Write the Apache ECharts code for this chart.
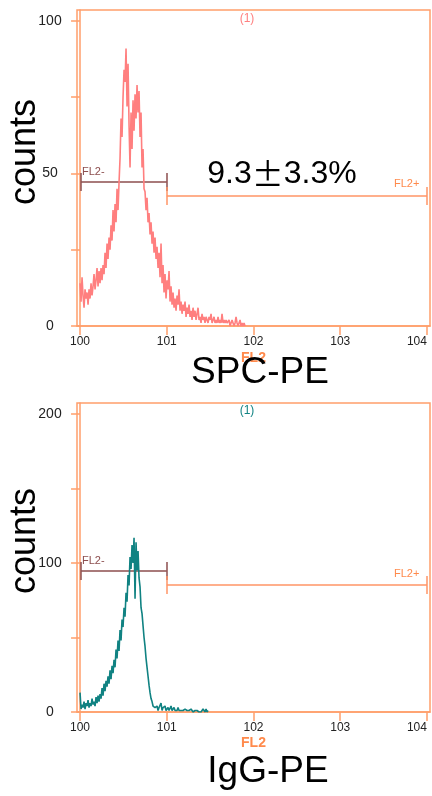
<!DOCTYPE html>
<html>
<head>
<meta charset="utf-8">
<script src="https://cdn.jsdelivr.net/npm/echarts@6/dist/echarts.min.js"></script>
<style>
  html, body { margin: 0; padding: 0; background: #fff; }
  #chart { width: 432px; height: 796px; }
</style>
</head>
<body>
<div id="chart"></div>
<script>
const FONT = '"Liberation Sans", Arial, sans-serif';
const FRAME = '#FF9E6B';

// x is in decades (log10 of FL2), one channel per step
const xTickValues = [0, 1, 2, 3, 4];
const xTickLabels = ['100', '101', '102', '103', '104'];
const channelWidth = 0.01153;

const topYTicks = [0, 25, 50, 75, 100];
const topYLabels = [0, 50, 100];
const bottomYTicks = [0, 50, 100, 150, 200];
const bottomYLabels = [0, 100, 200];

// SPC-PE histogram counts per channel
const spcCounts = [
  14, 8, 16, 10, 6, 12, 9,
  11, 7, 12, 9, 14, 10, 13,
  17, 12, 15, 19, 13, 18, 14,
  19, 15, 20, 17, 24, 19, 27,
  22, 29, 25, 33, 28, 38, 31,
  40, 34, 45, 38, 47,
  55, 68, 62, 75, 84,
  80, 91, 72, 86, 66,
  52, 70, 58, 74, 64,
  76, 68, 79, 70, 77,
  62, 70, 52, 58, 45,
  44, 38, 42, 34, 37,
  30, 34, 27, 31, 24, 29, 22,
  26, 19, 24, 16, 27, 14, 20, 11, 17, 9, 15,
  12, 18, 8, 13, 7, 11, 6, 9,
  5, 10, 7, 12, 5, 8, 4, 7,
  5, 8, 3, 6, 4, 7, 3, 5, 2, 6,
  3, 5, 2, 4, 6, 2, 3, 1, 4, 2, 3, 1, 3, 2,
  1, 3, 2, 4, 1, 2, 3, 1, 2, 1, 3, 1, 2, 1, 4, 1, 2, 1, 2, 1,
  1, 2, 0, 1, 2, 1, 0, 1, 3, 1, 0, 1, 2, 0, 1, 0, 1, 0
];

// IgG-PE histogram counts per channel
const iggCounts = [
  13, 2, 5, 3, 7, 2, 6, 4, 8, 3, 6, 4, 9, 5, 7, 4, 10, 6, 11, 7,
  12, 9, 16, 11, 19, 14, 21, 17, 24, 19,
  28, 22, 31, 26, 35, 30, 42, 36, 48, 41,
  55, 48, 62, 57, 70, 64, 80, 74, 92, 85,
  104, 96, 112, 100, 117, 76, 114, 95, 108, 90,
  84, 70, 66, 58, 50, 44, 36, 30, 24, 18,
  13, 9, 7, 4, 5, 3, 2, 4, 1, 3,
  2, 6, 1, 3, 2, 4, 1, 2, 3, 1,
  2, 4, 1, 2, 3, 1, 2, 1, 3, 1,
  2, 1, 2, 1, 1, 2, 1, 1, 2, 1,
  1, 2, 1, 0, 1, 1, 0, 1, 0, 0,
  0, 0, 0, 2, 1, 0, 2, 0, 1
];

// gates: [from decade, to decade, level]
const spcGateNeg = [0.012, 1.0, 47.2];
const spcGatePos = [1.0, 4.0, 42.6];
const iggGateNeg = [0.012, 1.0, 94.6];
const iggGatePos = [1.0, 4.0, 85.2];

const toXY = counts => counts.map((v, i) => [i * channelWidth, v]);

function gateLines(g, half) {
  const [x0, x1, y] = g;
  return [
    { coords: [[x0, y], [x1, y]] },
    { coords: [[x0, y - half], [x0, y + half]] },
    { coords: [[x1, y - half], [x1, y + half]] }
  ];
}

function gateSeries(g, half, color, idx) {
  return {
    type: 'lines', coordinateSystem: 'cartesian2d',
    xAxisIndex: idx, yAxisIndex: idx,
    polyline: false, silent: true,
    lineStyle: { color: color, width: 1.5, opacity: 1 },
    data: gateLines(g, half)
  };
}

function xAxisFor(idx) {
  return {
    gridIndex: idx, type: 'value', min: -0.035, max: 4.035,
    name: 'FL2', nameLocation: 'middle', nameGap: idx === 0 ? 32 : 31,
    nameTextStyle: { color: '#FF8A4C', fontWeight: 'bold', fontSize: 14, fontFamily: FONT, verticalAlign: 'middle' },
    axisLine: { lineStyle: { color: FRAME, width: 1.5 } },
    axisTick: { customValues: xTickValues, length: 9, lineStyle: { color: FRAME, width: 1.5 } },
    axisLabel: {
      customValues: xTickValues, margin: 10, color: '#222', fontSize: 12, fontFamily: FONT,
      alignMaxLabel: 'right', hideOverlap: false,
      formatter: v => xTickLabels[xTickValues.indexOf(Math.round(v))]
    },
    splitLine: { show: false }
  };
}

function yAxisFor(idx, max, ticks, labels) {
  return {
    gridIndex: idx, type: 'value', min: 0, max: max,
    axisLine: { show: true, lineStyle: { color: FRAME, width: 1.5 } },
    axisTick: { show: true, customValues: ticks, length: 9, lineStyle: { color: FRAME, width: 1.5 } },
    axisLabel: { customValues: labels, align: 'center', margin: 27, color: '#222', fontSize: 14, fontFamily: FONT },
    splitLine: { show: false }
  };
}

function txt(text, x, y, size, color, extra) {
  return Object.assign({
    type: 'text', x: x, y: y, z: 100,
    style: { text: text, font: size + 'px ' + FONT, fill: color, align: 'center', verticalAlign: 'middle' }
  }, extra || {});
}

function gateLabel(text, x, y, color) {
  return {
    type: 'text', x: x, y: y, z: 100,
    style: { text: text, font: '11px ' + FONT, fill: color, align: 'left', verticalAlign: 'middle' }
  };
}

const chart = echarts.init(document.getElementById('chart'));
chart.setOption({
  animation: false,
  backgroundColor: '#fff',
  grid: [
    { left: 77, top: 10, width: 353, height: 316, containLabel: false, outerBoundsMode: 'none',
      show: true, borderColor: FRAME, borderWidth: 1.5, backgroundColor: 'transparent' },
    { left: 77, top: 403, width: 353, height: 309, containLabel: false, outerBoundsMode: 'none',
      show: true, borderColor: FRAME, borderWidth: 1.5, backgroundColor: 'transparent' }
  ],
  xAxis: [xAxisFor(0), xAxisFor(1)],
  yAxis: [
    yAxisFor(0, 103.6, topYTicks, topYLabels),
    yAxisFor(1, 207.4, bottomYTicks, bottomYLabels)
  ],
  series: [
    {
      type: 'line', xAxisIndex: 0, yAxisIndex: 0, data: toXY(spcCounts),
      showSymbol: false, lineStyle: { color: '#FF7F7F', width: 1.6 }, silent: true
    },
    {
      type: 'line', xAxisIndex: 1, yAxisIndex: 1, data: toXY(iggCounts),
      showSymbol: false, lineStyle: { color: '#108282', width: 1.6 }, silent: true
    },
    gateSeries(spcGateNeg, 2.95, '#8C4E4E', 0),
    gateSeries(spcGatePos, 2.95, '#FF9466', 0),
    gateSeries(iggGateNeg, 6, '#8C4E4E', 1),
    gateSeries(iggGatePos, 6, '#FF9466', 1)
  ],
  graphic: [
    txt('(1)', 247, 19, 12, '#FF8080'),
    txt('(1)', 247, 411, 12, '#138484'),
    gateLabel('FL2-', 82, 172, '#8C4E4E'),
    gateLabel('FL2+', 394, 184, '#FF8A4C'),
    gateLabel('FL2-', 82, 561, '#8C4E4E'),
    gateLabel('FL2+', 394, 574, '#FF8A4C'),
    txt('counts', 25, 152, 36, '#000', { rotation: Math.PI / 2 }),
    txt('counts', 25, 541, 36, '#000', { rotation: Math.PI / 2 }),
    txt('SPC-PE', 260, 373, 37, '#000'),
    txt('IgG-PE', 268, 772, 37, '#000'),
    {
      type: 'text', x: 282, y: 174, z: 100,
      style: {
        text: '{a|9.3}{b|±}{a|3.3%}', align: 'center', verticalAlign: 'middle',
        rich: {
          a: { font: '32px ' + FONT, fill: '#000' },
          b: { font: '32px "Noto Sans CJK SC", ' + FONT, fill: '#000' }
        }
      }
    }
  ]
});
</script>
</body>
</html>
